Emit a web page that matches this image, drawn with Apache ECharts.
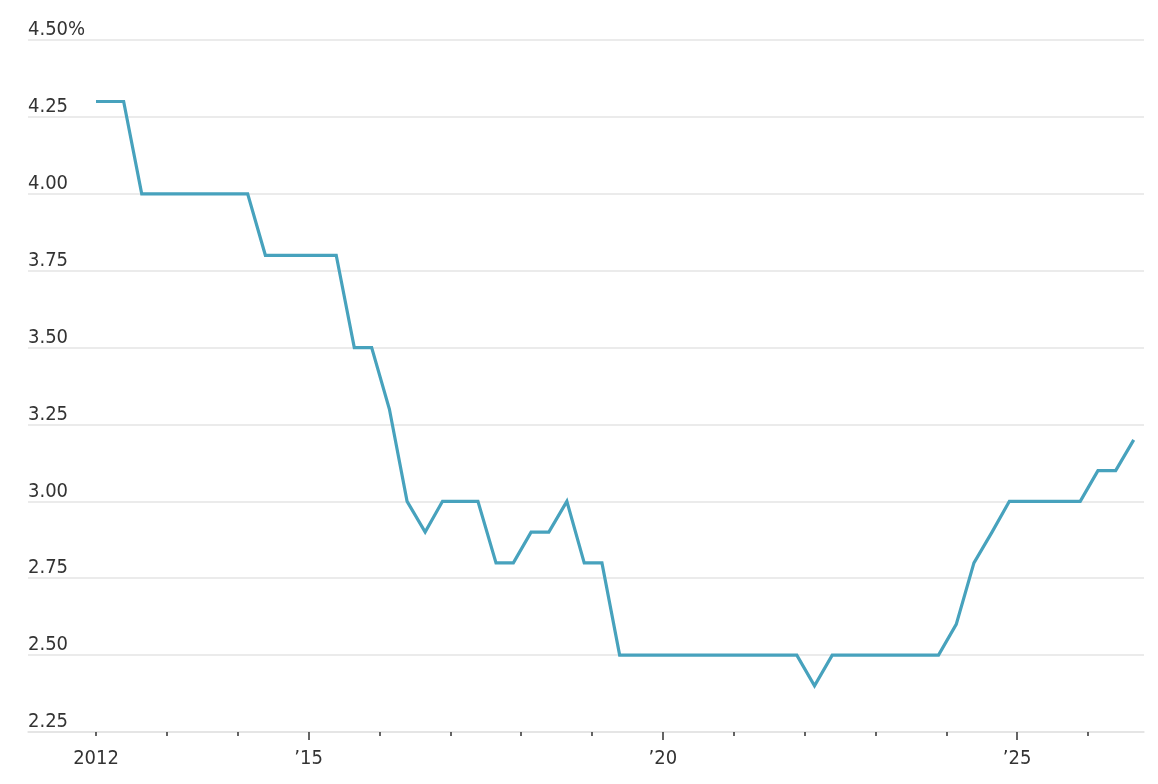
<!DOCTYPE html>
<html>
<head>
<meta charset="utf-8">
<script src="https://cdn.jsdelivr.net/npm/echarts@6/dist/echarts.min.js"></script>
<style>
  html, body { margin: 0; padding: 0; background: #ffffff; }
  #chart { width: 1158px; height: 784px; }
</style>
</head>
<body>
<div id="chart"></div>
<script>
// Observation dates (decimal years) and rate values (%)
const dates = [
  2012.0, 2012.39, 2012.645, 2012.89,
  2013.14, 2013.39, 2013.645, 2013.89,
  2014.14, 2014.39, 2014.645, 2014.89,
  2015.14, 2015.39, 2015.645, 2015.89,
  2016.14, 2016.39, 2016.645, 2016.89,
  2017.14, 2017.39, 2017.645, 2017.89,
  2018.14, 2018.39, 2018.645, 2018.89,
  2019.14, 2019.39, 2019.645, 2019.89,
  2020.14, 2020.39, 2020.645, 2020.89,
  2021.14, 2021.39, 2021.645, 2021.89,
  2022.14, 2022.39, 2022.645, 2022.89,
  2023.14, 2023.39, 2023.645, 2023.89,
  2024.14, 2024.39, 2024.645, 2024.89,
  2025.14, 2025.39, 2025.645, 2025.89,
  2026.14, 2026.39, 2026.645
];
const rates = [
  4.30, 4.30, 4.00, 4.00,
  4.00, 4.00, 4.00, 4.00,
  4.00, 3.80, 3.80, 3.80,
  3.80, 3.80, 3.50, 3.50,
  3.30, 3.00, 2.90, 3.00,
  3.00, 3.00, 2.80, 2.80,
  2.90, 2.90, 3.00, 2.80,
  2.80, 2.50, 2.50, 2.50,
  2.50, 2.50, 2.50, 2.50,
  2.50, 2.50, 2.50, 2.50,
  2.40, 2.50, 2.50, 2.50,
  2.50, 2.50, 2.50, 2.50,
  2.60, 2.80, 2.90, 3.00,
  3.00, 3.00, 3.00, 3.00,
  3.10, 3.10, 3.20
];
// Axis ticks and labels
const yearTicks = [2012, 2013, 2014, 2015, 2016, 2017, 2018, 2019, 2020, 2021, 2022, 2023, 2024, 2025, 2026];
const majorTicks = [2015, 2020, 2025];
const xLabelValues = [2012, 2015, 2020, 2025];
const xLabelTexts = { 2012: '2012', 2015: '\u201915', 2020: '\u201920', 2025: '\u201925' };
const yMin = 2.25, yMax = 4.5, yStep = 0.25;

const FONT = '"DejaVu Sans Condensed", "Noto Sans", sans-serif';
const TEXT = '#333333';
const GRID = '#e4e4e4';

const chart = echarts.init(document.getElementById('chart'), null, { renderer: 'canvas' });
const xMin = 2011.04, xMax = 2026.79;

chart.setOption({
  animation: false,
  backgroundColor: '#ffffff',
  grid: { left: 28, right: 14, top: 40, bottom: 52, containLabel: false },
  xAxis: [
    {
      type: 'value', position: 'bottom', min: xMin, max: xMax,
      axisLine: { show: true, lineStyle: { color: GRID, width: 1.5 } },
      splitLine: { show: false },
      axisTick: { show: true, customValues: yearTicks, length: 4, lineStyle: { color: '#333', width: 1.5 } },
      axisLabel: {
        show: true, customValues: xLabelValues, margin: 17,
        fontFamily: FONT, fontSize: 20, color: TEXT,
        formatter: v => xLabelTexts[Math.round(v)] || ''
      }
    },
    {
      type: 'value', position: 'bottom', min: xMin, max: xMax,
      axisLine: { show: false },
      splitLine: { show: false },
      axisTick: { show: true, customValues: majorTicks, length: 8, lineStyle: { color: '#333', width: 1.5 } },
      axisLabel: { show: false }
    }
  ],
  yAxis: {
    type: 'value', min: yMin, max: yMax, interval: yStep,
    axisLine: { show: false }, axisTick: { show: false },
    splitLine: { show: true, lineStyle: { color: GRID, width: 1.5 } },
    axisLabel: {
      inside: true, margin: 0, align: 'left', verticalAlign: 'bottom',
      padding: [0, 0, 0, 0],
      fontFamily: FONT, fontSize: 20, color: TEXT,
      formatter: v => (Math.abs(v - yMax) < 1e-9 ? v.toFixed(2) + '%' : v.toFixed(2))
    }
  },
  series: [{
    type: 'line', xAxisIndex: 0,
    data: dates.map((d, i) => [d, rates[i]]),
    showSymbol: false, symbol: 'none',
    lineStyle: { color: '#47a2bd', width: 3.2, cap: 'butt', join: 'miter' }
  }]
});
</script>
</body>
</html>
